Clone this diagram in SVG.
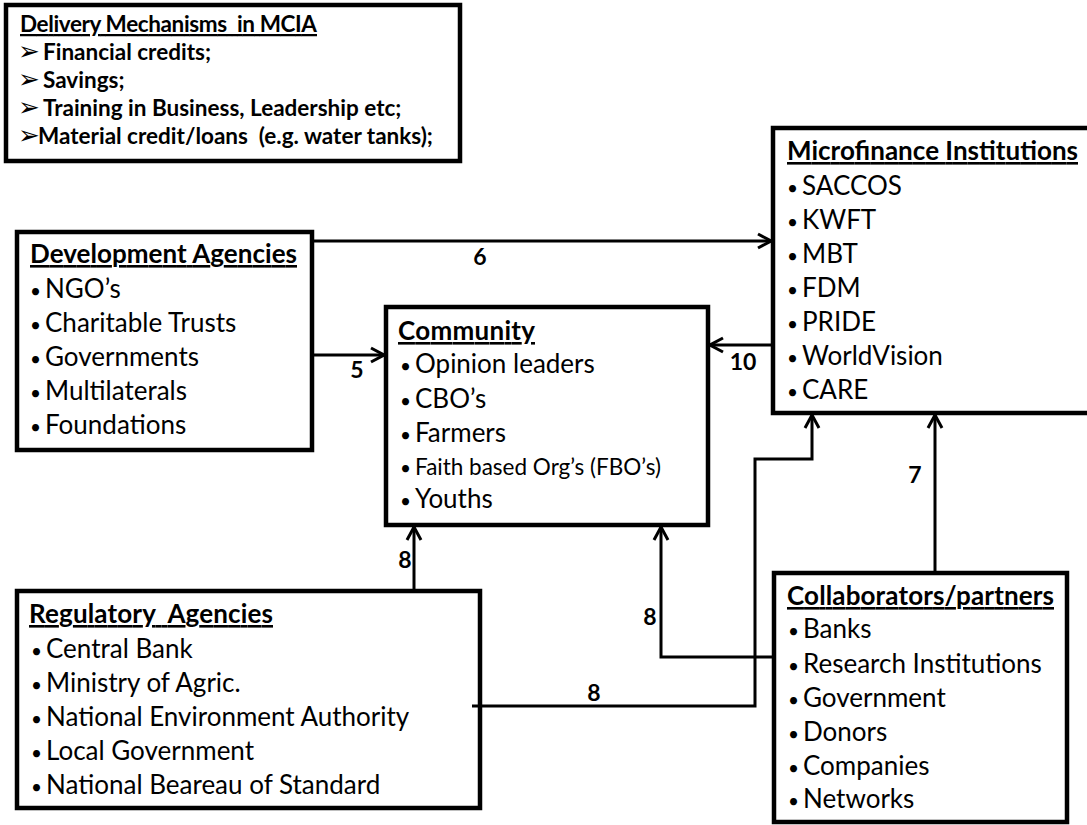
<svg xmlns="http://www.w3.org/2000/svg" width="1087" height="825" viewBox="0 0 1087 825">
<style>
.box{fill:#fff;stroke:#000;stroke-width:4.5}
.t{font-family:Lato,"Liberation Sans",sans-serif;font-size:26px;fill:#000}
.h{font-weight:bold;text-decoration:underline}
.b{font-size:19px}
.d{font-family:Lato,"Liberation Sans",sans-serif;font-weight:bold;font-size:22.5px;fill:#000}
.ar{font-family:"DejaVu Sans",sans-serif;font-weight:bold;font-size:26px}
.sm{font-size:22.5px}
.lbl{font-family:Lato,"Liberation Sans",sans-serif;font-weight:bold;font-size:23px;text-anchor:middle;fill:#000}
.conn{fill:none;stroke:#000;stroke-width:3;marker-end:url(#arr)}
</style>
<defs>
<marker id="arr" markerUnits="userSpaceOnUse" viewBox="-16 -10 18 20" refX="0" refY="0" markerWidth="18" markerHeight="20" orient="auto">
<path d="M-13,-7 L0,0 L-13,7" fill="none" stroke="#000" stroke-width="3"/>
</marker>
</defs>

<g id="delivery-mechanisms">
<rect class="box" x="6" y="5" width="454" height="156"/>
<text class="d" x="20" y="32" text-decoration="underline" textLength="297">Delivery Mechanisms&#160; in MCIA</text>
<text class="d" y="60"><tspan class="ar" x="18">➢</tspan><tspan x="43">Financial credits;</tspan></text>
<text class="d" y="88"><tspan class="ar" x="18">➢</tspan><tspan x="43">Savings;</tspan></text>
<text class="d" y="116"><tspan class="ar" x="18">➢</tspan><tspan x="43">Training in Business, Leadership etc;</tspan></text>
<text class="d" y="144"><tspan class="ar" x="18">➢</tspan><tspan x="38">Material credit/loans&#160; (e.g. water tanks);</tspan></text>
</g>

<g id="microfinance-institutions">
<rect class="box" x="773" y="128" width="330" height="285"/>
<text class="t h" x="787" y="160" textLength="291">Microfinance Institutions</text>
<text class="t" y="195"><tspan class="b" x="787">•</tspan><tspan x="802">SACCOS</tspan></text>
<text class="t" y="229"><tspan class="b" x="787">•</tspan><tspan x="802">KWFT</tspan></text>
<text class="t" y="263"><tspan class="b" x="787">•</tspan><tspan x="802">MBT</tspan></text>
<text class="t" y="297"><tspan class="b" x="787">•</tspan><tspan x="802">FDM</tspan></text>
<text class="t" y="331"><tspan class="b" x="787">•</tspan><tspan x="802">PRIDE</tspan></text>
<text class="t" y="365"><tspan class="b" x="787">•</tspan><tspan x="802">WorldVision</tspan></text>
<text class="t" y="399"><tspan class="b" x="787">•</tspan><tspan x="802">CARE</tspan></text>
</g>

<g id="development-agencies">
<rect class="box" x="17" y="232" width="295" height="218"/>
<text class="t h" x="30" y="263" textLength="267">Development Agencies</text>
<text class="t" y="298"><tspan class="b" x="30">•</tspan><tspan x="45">NGO’s</tspan></text>
<text class="t" y="332"><tspan class="b" x="30">•</tspan><tspan x="45">Charitable Trusts</tspan></text>
<text class="t" y="366"><tspan class="b" x="30">•</tspan><tspan x="45">Governments</tspan></text>
<text class="t" y="400"><tspan class="b" x="30">•</tspan><tspan x="45">Multilaterals</tspan></text>
<text class="t" y="434"><tspan class="b" x="30">•</tspan><tspan x="45">Foundations</tspan></text>
</g>

<g id="community">
<rect class="box" x="386" y="307" width="322" height="218"/>
<text class="t h" x="398" y="340" textLength="137">Community</text>
<text class="t" y="373"><tspan class="b" x="400">•</tspan><tspan x="415">Opinion leaders</tspan></text>
<text class="t" y="408"><tspan class="b" x="400">•</tspan><tspan x="415">CBO’s</tspan></text>
<text class="t" y="442"><tspan class="b" x="400">•</tspan><tspan x="415">Farmers</tspan></text>
<text class="t sm" y="475"><tspan class="b" x="400">•</tspan><tspan x="415">Faith based Org’s (FBO’s)</tspan></text>
<text class="t" y="508"><tspan class="b" x="400">•</tspan><tspan x="415">Youths</tspan></text>
</g>

<g id="regulatory-agencies">
<rect class="box" x="17" y="591" width="463" height="217"/>
<text class="t h" x="29" y="623" textLength="244">Regulatory&#160; Agencies</text>
<text class="t" y="658"><tspan class="b" x="31">•</tspan><tspan x="46">Central Bank</tspan></text>
<text class="t" y="692"><tspan class="b" x="31">•</tspan><tspan x="46">Ministry of Agric.</tspan></text>
<text class="t" y="726"><tspan class="b" x="31">•</tspan><tspan x="46">National Environment Authority</tspan></text>
<text class="t" y="760"><tspan class="b" x="31">•</tspan><tspan x="46">Local Government</tspan></text>
<text class="t" y="794"><tspan class="b" x="31">•</tspan><tspan x="46">National Beareau of Standard</tspan></text>
</g>

<g id="collaborators-partners">
<rect class="box" x="774" y="573" width="293" height="249"/>
<text class="t h" x="787" y="605" textLength="267">Collaborators/partners</text>
<text class="t" y="638"><tspan class="b" x="788">•</tspan><tspan x="803">Banks</tspan></text>
<text class="t" y="673"><tspan class="b" x="788">•</tspan><tspan x="803">Research Institutions</tspan></text>
<text class="t" y="707"><tspan class="b" x="788">•</tspan><tspan x="803">Government</tspan></text>
<text class="t" y="741"><tspan class="b" x="788">•</tspan><tspan x="803">Donors</tspan></text>
<text class="t" y="775"><tspan class="b" x="788">•</tspan><tspan x="803">Companies</tspan></text>
<text class="t" y="808"><tspan class="b" x="788">•</tspan><tspan x="803">Networks</tspan></text>
</g>

<g id="connectors">
<path class="conn" d="M312,241 H771"/>
<path class="conn" d="M312,355 H384"/>
<path class="conn" d="M773,345 H710"/>
<path class="conn" d="M935,573 V415"/>
<path class="conn" d="M414,591 V527"/>
<path class="conn" d="M774,657 H661 V527"/>
<path class="conn" d="M472,706 H755 V459 H812 V415"/>
<text class="lbl" x="480" y="265">6</text>
<text class="lbl" x="357" y="378">5</text>
<text class="lbl" x="743" y="370">10</text>
<text class="lbl" x="915" y="483">7</text>
<text class="lbl" x="405" y="568">8</text>
<text class="lbl" x="650" y="625">8</text>
<text class="lbl" x="594" y="701">8</text>
</g>
</svg>
